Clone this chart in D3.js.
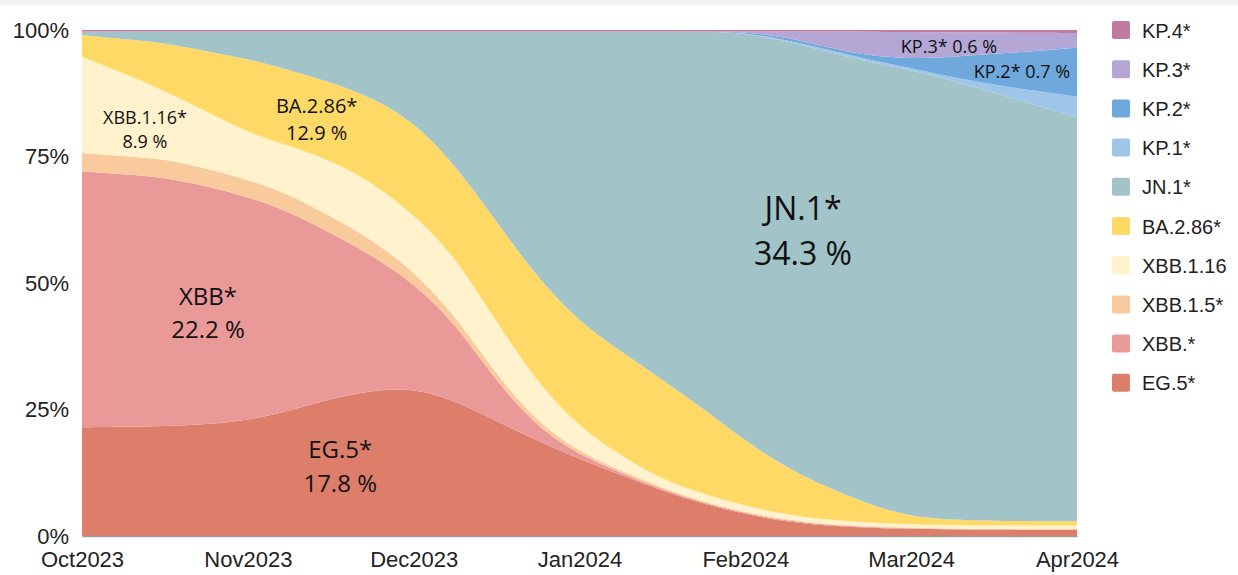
<!DOCTYPE html>
<html>
<head>
<meta charset="utf-8">
<script src="https://cdn.jsdelivr.net/npm/d3@7/dist/d3.min.js"></script>
<style>
  body { margin: 0; background: #fff; }
  .axis text { font-family: "Liberation Sans", Arial, sans-serif; font-size: 22px; fill: #222; }
  .legend text { font-family: "Liberation Sans", Arial, sans-serif; font-size: 20px; fill: #222; }
  .note text { font-family: "Open Sans", "Noto Sans", sans-serif; fill: #111; }
</style>
</head>
<body>
<div id="chart"></div>
<script>
// sample positions, in months since Oct 2023 (roughly weekly)
var tPos = [0, 0.25, 0.5, 0.75, 1, 1.25, 1.5, 1.75, 2, 2.25, 2.5, 2.75, 3,
            3.25, 3.5, 3.75, 4, 4.25, 4.5, 4.75, 5, 5.25, 5.5, 5.75, 6];
var months = ["Oct2023", "Nov2023", "Dec2023", "Jan2024", "Feb2024", "Mar2024", "Apr2024"];

// share of each lineage (%)
var eg5    = [21.5, 21.6, 21.7, 22.1, 22.9, 24.7, 27.1, 28.9, 29.4, 26.9, 22.7, 18.8, 15.2, 12.1, 8.9, 6.3, 4.3, 2.8, 2.0, 1.6, 1.4, 1.3, 1.2, 1.2, 1.2];
var xbb    = [50.6, 49.9, 49.2, 47.1, 44.3, 39.4, 32.7, 26.7, 20.8, 15.4, 7.7, 2.6, 0.8, 0.4, 0.3, 0.2, 0.2, 0.2, 0.15, 0.15, 0.1, 0.1, 0.1, 0.1, 0.1];
var xbb15  = [3.6, 3.6, 3.6, 3.5, 3.4, 3.4, 3.3, 3.1, 2.4, 1.6, 1.3, 1.0, 0.6, 0.4, 0.3, 0.2, 0.2, 0.2, 0.15, 0.15, 0.1, 0.1, 0.1, 0.1, 0.1];
var xbb116 = [19.0, 16.4, 13.4, 11.3, 9.3, 9.6, 11.1, 11.3, 11.3, 11.7, 10.5, 7.7, 4.9, 3.0, 1.6, 1.6, 1.2, 1.0, 0.9, 0.7, 0.7, 0.7, 0.7, 0.7, 0.7];
var ba286  = [4.3, 6.7, 9.5, 11.9, 14.6, 15.0, 15.4, 16.8, 18.4, 18.2, 19.8, 20.8, 20.8, 20.6, 19.8, 16.8, 12.8, 9.3, 6.3, 3.6, 1.5, 1.0, 0.9, 0.8, 0.8];
var jn1    = [0.7, 1.5, 2.3, 3.9, 5.4, 7.6, 10.0, 13.1, 17.9, 26.4, 37.6, 48.9, 57.4, 63.3, 68.9, 74.6, 80.6, 84.4, 86.2, 87.5, 88.3, 87.0, 84.6, 82.3, 79.9];
var kp1    = [0, 0, 0, 0, 0, 0, 0, 0, 0, 0, 0, 0, 0, 0, 0, 0, 0.1, 0.2, 0.4, 0.4, 0.4, 0.6, 1.6, 2.8, 4.0];
var kp2    = [0, 0, 0, 0, 0, 0, 0, 0, 0, 0, 0, 0, 0, 0, 0, 0, 0.1, 0.6, 0.4, 0.8, 1.8, 4.0, 6.1, 7.9, 9.7];
var kp3    = [0, 0, 0, 0, 0, 0, 0, 0, 0, 0, 0, 0, 0, 0, 0, 0, 0.1, 1.1, 3.2, 4.8, 5.3, 4.9, 4.2, 3.6, 2.9];
var kp4    = [0.3, 0.3, 0.3, 0.3, 0.3, 0.3, 0.3, 0.3, 0.3, 0.3, 0.3, 0.3, 0.3, 0.3, 0.3, 0.3, 0.3, 0.3, 0.3, 0.35, 0.4, 0.45, 0.5, 0.55, 0.6];

var keys   = ["EG.5*", "XBB.*", "XBB.1.5*", "XBB.1.16", "BA.2.86*", "JN.1*", "KP.1*", "KP.2*", "KP.3*", "KP.4*"];
var series = [eg5, xbb, xbb15, xbb116, ba286, jn1, kp1, kp2, kp3, kp4];
var colors = ["#dd7e6b", "#ea9999", "#f9cb9c", "#fff2cc", "#ffd966", "#a2c4c9", "#9fc5e8", "#6fa8dc", "#b4a7d6", "#c27ba0"];

// in-chart notes: [lines], month position, share at first baseline, font size, line gap
var notes = [
  [["XBB.1.16*", "8.9 %"], 0.38, 0.814, 18, 24],
  [["BA.2.86*", "12.9 %"], 1.415, 0.836, 20, 27],
  [["XBB*", "22.2 %"], 0.76, 0.457, 24, 33],
  [["EG.5*", "17.8 %"], 1.557, 0.154, 24, 34],
  [["JN.1*", "34.3 %"], 4.348, 0.625, 32, 45],
  [["KP.3* 0.6 %"], 5.228, 0.955, 18, 0],
  [["KP.2* 0.7 %"], 5.668, 0.905, 18, 0]
];

function main() {
    var width = 1238, height = 575;

    var rows = tPos.map(function (t, i) {
        var r = { t: t };
        keys.forEach(function (k, j) { r[k] = series[j][i]; });
        return r;
    });

    var x = d3.scaleLinear().domain([0, 6]).range([82, 1077]);
    var y = d3.scaleLinear().domain([0, 1]).range([536, 30]);
    var color = d3.scaleOrdinal().domain(keys).range(colors);

    var stacked = d3.stack().keys(keys).offset(d3.stackOffsetExpand)(rows);

    var area = d3.area()
        .x(function (d) { return x(d.data.t); })
        .y0(function (d) { return y(d[0]); })
        .y1(function (d) { return y(d[1]); })
        .curve(d3.curveBasis);

    var svg = d3.select("#chart").append("svg").attr("width", width).attr("height", height);
    svg.append("rect").attr("width", width).attr("height", height).attr("fill", "#fff");
    svg.append("rect").attr("width", width).attr("height", 5).attr("fill", "#f2f2f2");

    svg.append("g").selectAll("path")
        .data(stacked)
      .enter().append("path")
        .attr("d", area)
        .attr("fill", function (d) { return color(d.key); });

    var xAxis = svg.append("g").attr("class", "axis")
        .attr("transform", "translate(0,536)")
        .call(d3.axisBottom(x).tickValues(d3.range(7)).tickFormat(function (i) { return months[i]; })
            .tickSize(0).tickPadding(15));
    xAxis.select(".domain").attr("stroke", "#9a9a9a").attr("stroke-width", 1.5);

    var yAxis = svg.append("g").attr("class", "axis")
        .attr("transform", "translate(82,0)")
        .call(d3.axisLeft(y).tickValues([0, 0.25, 0.5, 0.75, 1]).tickFormat(d3.format(".0%"))
            .tickSize(0).tickPadding(13));
    yAxis.select(".domain").remove();

    var note = svg.append("g").attr("class", "note");
    notes.forEach(function (n) {
        var t = note.append("text")
            .attr("text-anchor", "middle")
            .attr("font-size", n[3]);
        n[0].forEach(function (line, i) {
            t.append("tspan")
                .attr("x", x(n[1]))
                .attr("y", y(n[2]) + i * n[4])
                .text(line);
        });
    });

    var legend = svg.append("g").attr("class", "legend");
    var lk = keys.slice().reverse();
    lk.forEach(function (k, i) {
        var cy = 30 + i * 39.2;
        legend.append("rect")
            .attr("x", 1112).attr("y", cy - 9)
            .attr("width", 18).attr("height", 18).attr("rx", 2)
            .attr("fill", color(k));
        legend.append("text")
            .attr("x", 1142).attr("y", cy + 7.5)
            .text(k);
    });
}

main();
</script>
</body>
</html>
